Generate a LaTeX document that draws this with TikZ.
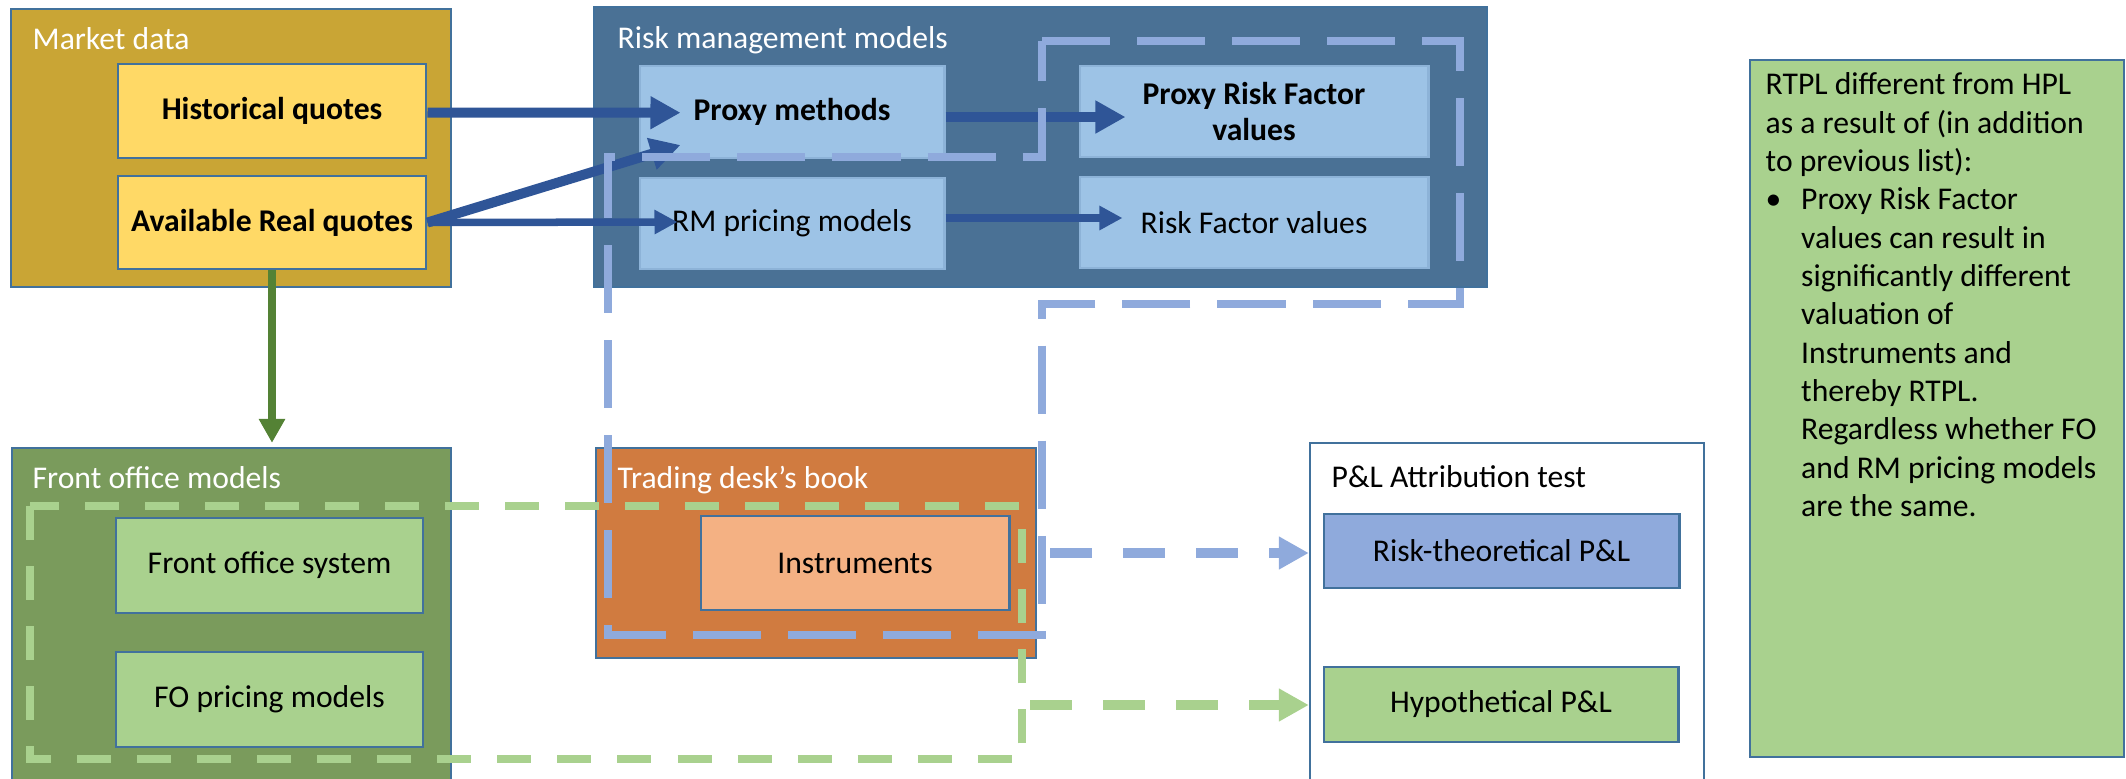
\documentclass[tikz,border=0pt]{standalone}
\usepackage{fontspec}
\setmainfont{Carlito}
\usetikzlibrary{arrows.meta,calc}
\definecolor{bord}{HTML}{41719C}
\definecolor{mdfill}{HTML}{C9A535}
\definecolor{quotefill}{HTML}{FFD966}
\definecolor{rmfill}{HTML}{4A7195}
\definecolor{rminner}{HTML}{9DC3E6}
\definecolor{rminnerbord}{HTML}{8DB3D8}
\definecolor{arrowblue}{HTML}{2F5597}
\definecolor{dashblue}{HTML}{8FAADC}
\definecolor{fofill}{HTML}{7A9B5C}
\definecolor{lightgreen}{HTML}{A9D18E}
\definecolor{darkgreen}{HTML}{548235}
\definecolor{tdfill}{HTML}{D07B40}
\definecolor{instrfill}{HTML}{F4B183}
\begin{document}
\begin{tikzpicture}[x=0.01cm,y=-0.01cm,
  txt/.style={font=\fontsize{9}{10.9}\selectfont},
  outerbox/.style={draw=bord, line width=0.6pt, inner sep=0pt},
  innerbox/.style={draw=bord, line width=0.8pt, inner sep=0pt, align=center, txt},
  rmbox/.style={innerbox, draw=rminnerbord, fill=rminner},
  lbl/.style={anchor=base west, inner sep=0pt, text=white, txt},
  bigarrow/.style={draw=arrowblue, line width=0.1cm, -{Triangle[length=0.3cm,width=0.31cm]}},
  smallarrow/.style={draw=arrowblue, line width=0.075cm, -{Triangle[length=0.23cm,width=0.23cm]}},
  greenarrow/.style={draw=darkgreen, line width=0.08cm, -{Triangle[length=0.24cm,width=0.25cm]}},
  bluedash/.style={draw=dashblue, line width=0.08cm, dash pattern=on 0.68cm off 0.27cm},
  greendash/.style={draw=lightgreen, line width=0.075cm, dash pattern=on 0.34cm off 0.26cm},
  bluedasharrow/.style={draw=dashblue, line width=0.1cm, dash pattern=on 0.42cm off 0.31cm, -{Triangle[length=0.3cm,width=0.31cm]}},
  greendasharrow/.style={draw=lightgreen, line width=0.1cm, dash pattern=on 0.42cm off 0.31cm, -{Triangle[length=0.3cm,width=0.31cm]}}
]
\useasboundingbox (0,0) rectangle (2126,778);

% Market data
\node[outerbox, fill=mdfill, minimum width=4.40cm, minimum height=2.78cm] (mkt) at (231,148) {};
\node[lbl] (mktl) at (32,49) {Market data};
\node[innerbox, fill=quotefill, minimum width=3.08cm, minimum height=0.94cm, font=\fontsize{9}{10.9}\selectfont\bfseries] (hist) at (272,111) {Historical quotes};
\node[innerbox, fill=quotefill, minimum width=3.08cm, minimum height=0.93cm, font=\fontsize{9}{10.9}\selectfont\bfseries] (avail) at (272,222.5) {Available Real quotes};

% Risk management models
\node[outerbox, fill=rmfill, minimum width=8.93cm, minimum height=2.80cm] (rmm) at (1040.5,147) {};
\node[lbl] (rmml) at (617,48) {Risk management models};
\node[rmbox, minimum width=3.04cm, minimum height=0.92cm, font=\fontsize{9}{10.9}\selectfont\bfseries] (proxy) at (792,112) {Proxy methods};
\node[rmbox, minimum width=3.04cm, minimum height=0.91cm] (rmprice) at (792,223.5) {RM pricing models};
\node[rmbox, minimum width=3.48cm, minimum height=0.91cm, font=\fontsize{9}{10.5}\selectfont\bfseries] (prf) at (1254,111.5) {Proxy Risk Factor\\values};
\node[rmbox, minimum width=3.48cm, minimum height=0.91cm] (rf) at (1254,222.5) {Risk Factor values};

% Front office models
\node[outerbox, fill=fofill, minimum width=4.39cm, minimum height=3.42cm] (fom) at (231.5,619) {};
\node[lbl] (foml) at (32,488) {Front office models};
\node[innerbox, fill=lightgreen, minimum width=3.07cm, minimum height=0.95cm] (fos) at (269.5,565.5) {Front office system};
\node[innerbox, fill=lightgreen, minimum width=3.07cm, minimum height=0.95cm] (fop) at (269.5,699.5) {FO pricing models};

% Trading desk's book
\node[outerbox, fill=tdfill, minimum width=4.40cm, minimum height=2.10cm] (tdb) at (816,553) {};
\node[lbl] (tdbl) at (617,488) {Trading desk’s book};
\node[innerbox, fill=instrfill, minimum width=3.08cm, minimum height=0.94cm] (instr) at (855,563) {Instruments};

% P&L Attribution test
\node[outerbox, fill=white, minimum width=3.94cm, minimum height=3.47cm] (pla) at (1507,616.5) {};
\node[lbl, text=black] (plal) at (1331,487) {P\&L Attribution test};
\node[innerbox, fill=dashblue, minimum width=3.55cm, minimum height=0.74cm] (rtpl) at (1501.5,551) {Risk-theoretical P\&L};
\node[innerbox, fill=lightgreen, minimum width=3.54cm, minimum height=0.75cm] (hpl) at (1501,704.5) {Hypothetical P\&L};

% Note box
\node[outerbox, fill=lightgreen, minimum width=3.74cm, minimum height=6.97cm] (note) at (1937,408.5) {};
\node[anchor=north west, inner sep=0pt, align=left, txt] (notetext) at (1765,72) {RTPL different from HPL\\
as a result of (in addition\\
to previous list):\\
\makebox[0.355cm][l]{\textbullet}Proxy Risk Factor\\
\hspace*{0.355cm}values can result in\\
\hspace*{0.355cm}significantly different\\
\hspace*{0.355cm}valuation of\\
\hspace*{0.355cm}Instruments and\\
\hspace*{0.355cm}thereby RTPL.\\
\hspace*{0.355cm}Regardless whether FO\\
\hspace*{0.355cm}and RM pricing models\\
\hspace*{0.355cm}are the same.};

% Solid arrows
\draw[bigarrow] ($(hist.east)+(0,1.5)$) -- ($(proxy.west)+(42,0.7)$);
\draw[bigarrow] (avail.east) -- ($(proxy.west)+(42,33)$);
\draw[smallarrow] (avail.east) -- ($(rmprice.west)+(39,-1.5)$);
\draw[bigarrow] ($(proxy.east)+(0,5)$) -- ($(prf.west)+(47,5.5)$);
\draw[smallarrow] ($(rmprice.east)+(0,-5.5)$) -- ($(rf.west)+(44,-4.5)$);
\draw[greenarrow] (avail.south) -- ($(avail.south |- fom.north)+(0,-4)$);

% Dashed outlines
\draw[bluedash] (1042,41) -- (1460,41) -- (1460,304) -- (1042,304) -- (1042,635) -- (608,635) -- (608,157) -- (1042,157) -- cycle;
\draw[greendash] (30,506) rectangle (1022,759);

% Dashed arrows
\coordinate (bstart) at (1050,553);
\coordinate (gstart) at (1030,705);
\draw[bluedasharrow] (bstart) -- (bstart -| pla.west);
\draw[greendasharrow] (gstart) -- (gstart -| pla.west);
\end{tikzpicture}
\end{document}
